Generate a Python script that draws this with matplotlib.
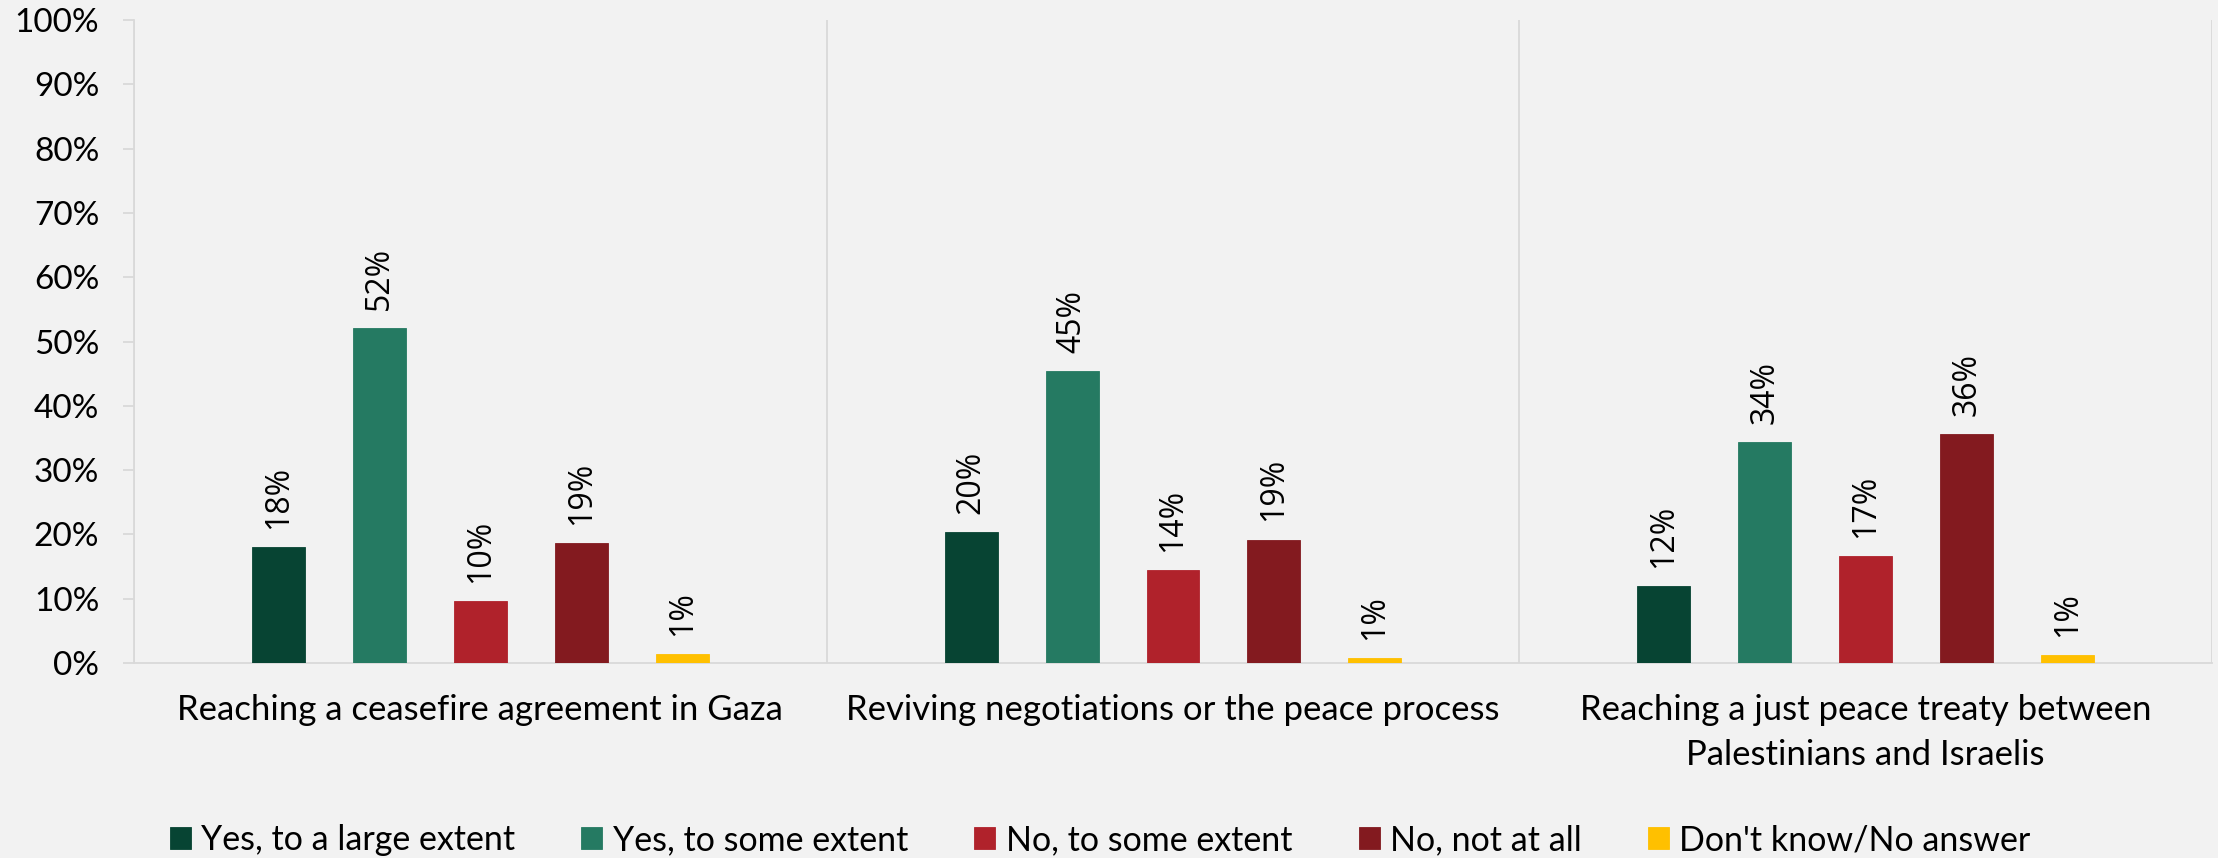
import matplotlib
matplotlib.use("Agg")
import matplotlib.pyplot as plt
import numpy as np

categories = [
    "Reaching a ceasefire agreement in Gaza",
    "Reviving negotiations or the peace process",
    "Reaching a just peace treaty between\nPalestinians and Israelis",
]
series_names = [
    "Yes, to a large extent",
    "Yes, to some extent",
    "No, to some extent",
    "No, not at all",
    "Don't know/No answer",
]
yes_large = [18.1, 20.3, 11.9]
yes_some = [52.1, 45.4, 34.4]
no_some = [9.6, 14.4, 16.6]
no_not = [18.6, 19.2, 35.6]
dont_know = [1.4, 0.7, 1.3]
series_values = [yes_large, yes_some, no_some, no_not, dont_know]
colors = ["#074433", "#257A62", "#B0222B", "#831A1F", "#FFC000"]
yticks = list(range(0, 101, 10))
ytick_labels = [f"{t}%" for t in yticks]

W, H = 2218, 858
fig = plt.figure(figsize=(W / 100, H / 100), dpi=100, facecolor="#F2F2F2")
ax = fig.add_axes([134 / W, (H - 663) / H, (2212 - 134) / W, (663 - 20) / H])
ax.set_facecolor("#F2F2F2")

label_font = "Lato"
data_font = "Open Sans"
grid_c = "#D9D9D9"

step = 101 / 693
width = 53 / 693
x = np.arange(len(categories))
for i, (name, vals, c) in enumerate(zip(series_names, series_values, colors)):
    xs = x + (i - 2) * step
    ax.bar(xs, vals, width=width, color=c, label=name,
           edgecolor=c, linewidth=0.6, zorder=3)
    for xi, v in zip(xs, vals):
        ax.annotate(f"{v:.0f}%", (xi, v), xytext=(0, 13), textcoords="offset points",
                    rotation=90, ha="center", va="bottom", fontsize=23,
                    family=data_font, color="black")

ax.set_xlim(-0.5, len(categories) - 0.5)
ax.set_ylim(0, 100)
for b in np.arange(-0.5, len(categories), 1.0):
    ax.axvline(b, color=grid_c, lw=1.3, zorder=1)

ax.set_yticks(yticks)
ax.set_yticklabels(ytick_labels, fontsize=24, family=label_font)
ax.set_xticks(x)
ax.set_xticklabels(categories, fontsize=25, family=label_font, linespacing=1.5)
ax.tick_params(axis="y", length=8, width=1.3, color=grid_c, pad=17)
ax.tick_params(axis="x", length=0, pad=22)

for s in ["top", "right"]:
    ax.spines[s].set_visible(False)
for s in ["left", "bottom"]:
    ax.spines[s].set_color(grid_c)
    ax.spines[s].set_linewidth(1.3)

fig.legend(loc="center", bbox_to_anchor=(1100 / W, 18 / H), ncol=5,
           frameon=False, prop={"family": label_font, "size": 24.5},
           handlelength=0.62, handleheight=0.62, handletextpad=0.3,
           columnspacing=1.95)

fig.savefig("out.png", dpi=100, facecolor=fig.get_facecolor())
